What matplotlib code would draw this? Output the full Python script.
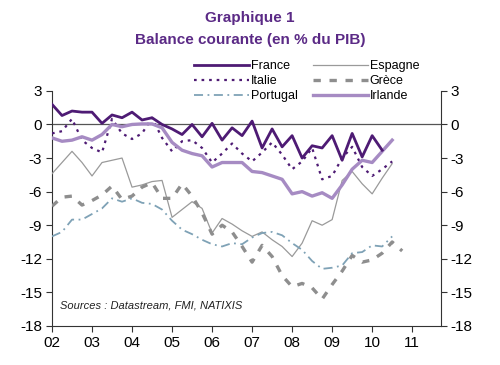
import matplotlib
matplotlib.use("Agg")
import matplotlib.pyplot as plt
import numpy as np

# --- DATA (quarterly, from 2002 Q1) ---
france = [1.8, 0.8, 1.2, 1.1, 1.1, 0.1, 0.85, 0.6, 1.1, 0.4, 0.6, 0.0,
          -0.4, -0.9, 0.0, -1.1, 0.1, -1.4, -0.3, -1.0, 0.3, -2.1, -0.4, -2.0,
          -1.0, -3.0, -1.9, -2.1, -1.0, -3.2, -0.8, -2.9, -1.0, -2.3]
italie = [-0.8, -0.6, 0.5, -1.4, -2.1, -2.5, 0.5, -0.8, -1.3, -0.8, 0.6, -1.2,
          -2.4, -1.5, -1.4, -2.1, -3.4, -2.6, -1.7, -2.6, -3.3, -2.5, -1.6, -2.7,
          -4.0, -3.3, -2.1, -4.9, -4.6, -3.0, -2.0, -3.8, -4.6, -4.0, -3.3]
irlande = [-1.2, -1.5, -1.4, -1.1, -1.4, -0.9, 0.0, -0.2, 0.0, 0.05, 0.05, -0.3,
           -1.6, -2.3, -2.6, -2.8, -3.8, -3.4, -3.4, -3.4, -4.2, -4.3, -4.6, -4.9,
           -6.2, -6.0, -6.4, -6.1, -6.6, -5.4, -4.0, -3.2, -3.4, -2.4, -1.4]
espagne = [-4.4, -3.4, -2.4, -3.4, -4.6, -3.4, -3.2, -3.0, -5.6, -5.4, -5.1, -5.0,
           -8.3, -7.6, -6.9, -7.5, -9.7, -8.4, -8.9, -9.5, -10.0, -9.6, -10.3, -10.9,
           -11.8, -10.6, -8.6, -9.0, -8.5, -5.0, -4.2, -5.3, -6.2, -4.8, -3.5]
grece = [-7.3, -6.5, -6.4, -7.2, -6.8, -6.3, -5.5, -6.7, -6.4, -5.6, -5.2, -6.6,
         -6.6, -5.3, -6.4, -7.9, -9.8, -9.0, -9.6, -10.9, -12.3, -10.8, -11.8, -13.5,
         -14.5, -14.2, -14.6, -15.6, -14.3, -13.1, -11.7, -12.3, -12.1, -11.5, -10.5, -11.3]
portugal = [-10.0, -9.6, -8.5, -8.5, -8.0, -7.5, -6.6, -6.9, -6.6, -7.0, -7.1, -7.6,
            -8.6, -9.4, -9.8, -10.3, -10.7, -10.9, -10.6, -10.7, -10.1, -9.7, -9.6, -9.9,
            -10.6, -11.2, -12.2, -12.9, -12.8, -12.6, -11.5, -11.4, -10.8, -10.9, -10.0]

year_ticks = list(range(2002, 2012))
year_labels = ["02", "03", "04", "05", "06", "07", "08", "09", "10", "11"]
y_ticks = [3, 0, -3, -6, -9, -12, -15, -18]


def qx(values):
    return 2002 + np.arange(len(values)) / 4.0


plt.rcParams['font.family'] = ['Liberation Sans', 'DejaVu Sans']

dark_purple = '#4E1B74'
light_purple = '#A68BC3'
title_col = '#5B2A86'

fig = plt.figure(figsize=(5.0, 3.65), dpi=100)
ax = fig.add_axes([0.104, 0.107, 0.778, 0.644])

ax.axhline(0, color='#555555', lw=0.9, zorder=1)

ax.plot(qx(france), france, color=dark_purple, lw=2.0, label='France', zorder=5)
ax.plot(qx(espagne), espagne, color='#9A9A9A', lw=0.9, label='Espagne', zorder=3)
ax.plot(qx(italie), italie, color=dark_purple, lw=1.6, ls=(0, (1.2, 2.2)), label='Italie', zorder=4)
ax.plot(qx(grece), grece, color='#8E8E8E', lw=2.4, ls=(0, (2.2, 2.6)), label='Grèce', zorder=3)
ax.plot(qx(portugal), portugal, color='#7FA2B6', lw=1.3, ls=(0, (5, 2.5, 1, 2.5)), label='Portugal', zorder=3)
ax.plot(qx(irlande), irlande, color=light_purple, lw=2.4, label='Irlande', zorder=4)

ax.set_xlim(2002, 2011.72)
ax.set_ylim(-18, 3)
ax.set_xticks(year_ticks)
ax.set_xticklabels(year_labels, fontsize=11)
ax.set_yticks(y_ticks)
ax.set_yticklabels([str(v) for v in y_ticks], fontsize=11)
ax.tick_params(axis='both', direction='out', length=4, width=0.8, color='#333333', pad=3)
ax.tick_params(axis='y', right=True, labelright=True)

for side in ['left', 'bottom', 'right']:
    ax.spines[side].set_color('#333333')
    ax.spines[side].set_linewidth(0.8)
ax.spines['top'].set_visible(False)

ax.text(0.02, 0.075, "Sources : Datastream, FMI, NATIXIS", transform=ax.transAxes,
        fontsize=8, style='italic', color='#222222')

handles, labels = ax.get_legend_handles_labels()
order = [0, 2, 4, 1, 3, 5]
leg = fig.legend([handles[i] for i in order], [labels[i] for i in order],
                 loc='upper left', bbox_to_anchor=(0.376, 0.853), ncol=2,
                 frameon=False, fontsize=9, handlelength=4.4, handletextpad=0.15,
                 columnspacing=1.2, labelspacing=0.25, borderpad=0)

fig.text(0.5, 0.95, "Graphique 1", ha='center', va='center', fontsize=11,
         fontweight='bold', color=title_col)
fig.text(0.5, 0.89, "Balance courante (en % du PIB)", ha='center', va='center',
         fontsize=11, fontweight='bold', color=title_col)

fig.savefig("out.png", dpi=100)
